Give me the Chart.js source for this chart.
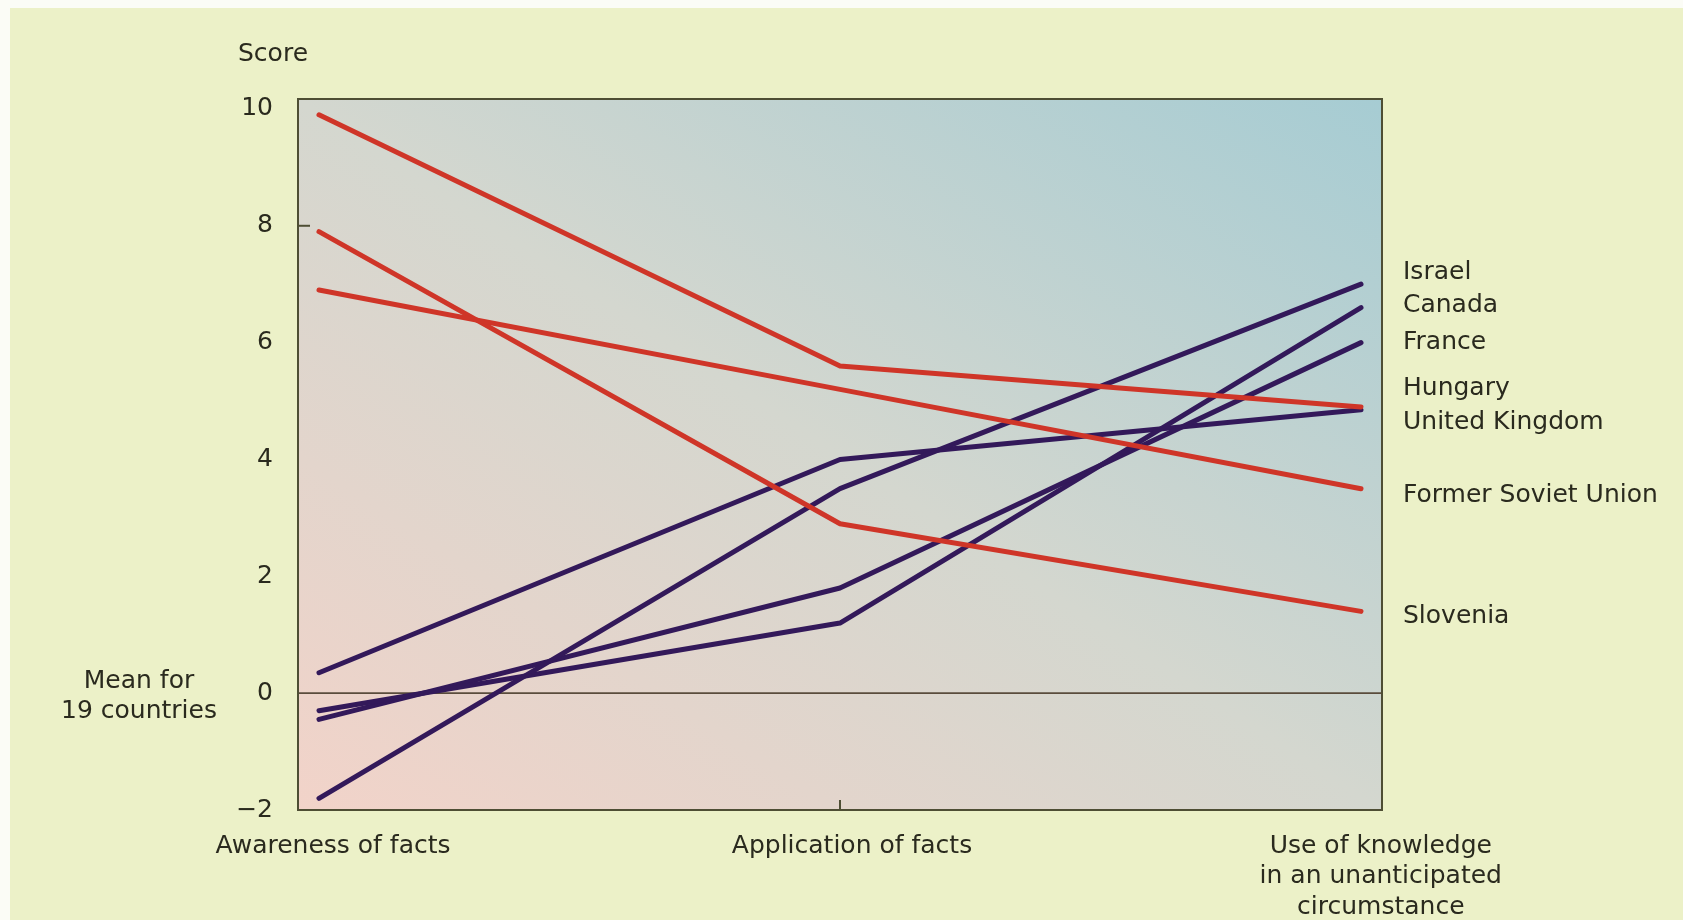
<!DOCTYPE html>
<html><head><meta charset="utf-8">
<script src="https://cdn.jsdelivr.net/npm/chart.js@4/dist/chart.umd.min.js"></script>
<style>
html,body{margin:0;padding:0;background:#fbfcf6;width:1683px;height:920px;overflow:hidden}
#wrap{position:absolute;left:10px;top:8px;width:1673px;height:912px;background:#ecf1c8}
canvas{display:block}
</style></head><body><div id="wrap"><canvas id="c" width="1673" height="912"></canvas></div>
<script>
// ---- data ----
const categories = ["Awareness of facts", "Application of facts", ["Use of knowledge", "in an unanticipated", "circumstance"]];
const yTickValues = [-2, 0, 2, 4, 6, 8, 10];
const countries = ["Israel", "Canada", "France", "Hungary", "United Kingdom", "Former Soviet Union", "Slovenia"];
const israel = [-1.8, 3.5, 7.0];
const canada = [-0.3, 1.2, 6.6];
const france = [-0.45, 1.8, 6.0];
const hungary = [9.9, 5.6, 4.9];
const unitedKingdom = [0.35, 4.0, 4.85];
const formerSovietUnion = [6.9, 5.2, 3.5];
const slovenia = [7.9, 2.9, 1.4];
const yAxisTitle = "Score";
const zeroLabel = ["Mean for", "19 countries"];

// ---- style ----
const RED = "#cf3528", PURPLE = "#33195a", TEXT = "#2a2a1e";
const FONT = "'DejaVu Sans', sans-serif";
const FS = 25;
const seriesValues = [israel, canada, france, hungary, unitedKingdom, formerSovietUnion, slovenia];
const seriesColors = [PURPLE, PURPLE, PURPLE, RED, PURPLE, RED, RED];
const labelNudge = {"Israel": -12, "Canada": -2, "France": 0, "Hungary": -18, "United Kingdom": 13, "Former Soviet Union": 7, "Slovenia": 5};
const xLabelShift = [0.027, 0.023, 0.038];

const datasets = countries.map((name, k) => ({
  label: name,
  data: seriesValues[k].map((v, i) => ({x: i, y: v})),
  borderColor: seriesColors[k],
  borderWidth: 5,
  pointRadius: 0,
  tension: 0,
  borderCapStyle: 'round',
  borderJoinStyle: 'round',
  order: seriesColors[k] === RED ? 0 : 1
}));

const decor = {
  id: 'decor',
  beforeDraw(chart) {
    const {ctx, chartArea: a} = chart;
    const cx = (a.left + a.right) / 2, cy = (a.top + a.bottom) / 2;
    const w = a.right - a.left, h = a.bottom - a.top;
    const len = Math.hypot(w, h);
    const ux = h / len, uy = -w / len;
    const proj = (-(w / 2) * ux + (h / 2) * uy);
    const g = ctx.createLinearGradient(cx + proj * ux, cy + proj * uy, cx - proj * ux, cy - proj * uy);
    g.addColorStop(0, "#f2d3c9");
    g.addColorStop(0.5, "#d4d7cf");
    g.addColorStop(1, "#a6ccd3");
    ctx.save();
    ctx.fillStyle = g;
    ctx.fillRect(a.left, a.top, w, h);
    ctx.restore();
  },
  beforeDatasetsDraw(chart) {
    const {ctx, chartArea: a, scales} = chart;
    const y0 = scales.y.getPixelForValue(0);
    ctx.save();
    ctx.strokeStyle = "#5a4c3c";
    ctx.lineWidth = 1.6;
    ctx.beginPath(); ctx.moveTo(a.left, y0); ctx.lineTo(a.right, y0); ctx.stroke();
    ctx.restore();
  },
  afterDraw(chart) {
    const {ctx, chartArea: a, scales} = chart;
    ctx.save();
    ctx.strokeStyle = "#4e4e34";
    ctx.lineWidth = 2;
    ctx.strokeRect(a.left, a.top, a.right - a.left, a.bottom - a.top);
    // small tick marks
    const xt = scales.x.getPixelForValue(1);
    ctx.beginPath(); ctx.moveTo(xt, a.bottom); ctx.lineTo(xt, a.bottom - 10); ctx.stroke();
    const yt = scales.y.getPixelForValue(8);
    ctx.beginPath(); ctx.moveTo(a.left, yt); ctx.lineTo(a.left + 12, yt); ctx.stroke();

    ctx.fillStyle = TEXT;
    ctx.font = FS + "px " + FONT;
    ctx.textBaseline = 'middle';
    ctx.textAlign = 'left';
    ctx.fillText(yAxisTitle, a.left - 60, a.top - 45);
    // zero label
    const y0 = scales.y.getPixelForValue(0);
    ctx.textAlign = 'center';
    ctx.fillText(zeroLabel[0], 129, y0 - 12);
    ctx.fillText(zeroLabel[1], 129, y0 + 18);
    // country labels
    ctx.textAlign = 'left';
    countries.forEach((name, k) => {
      const v = seriesValues[k][seriesValues[k].length - 1];
      ctx.fillText(name, a.right + 21, scales.y.getPixelForValue(v) + labelNudge[name]);
    });
    ctx.restore();
  }
};

new Chart(document.getElementById('c'), {
  type: 'line',
  data: {datasets},
  plugins: [decor],
  options: {
    responsive: false,
    animation: false,
    layout: {padding: {top: 91, right: 301, left: 0, bottom: 0}},
    plugins: {legend: {display: false}, tooltip: {enabled: false}, title: {display: false}},
    scales: {
      x: {
        type: 'linear', min: -0.0403, max: 2.0403,
        grid: {display: false}, border: {display: false},
        afterBuildTicks: ax => { ax.ticks = categories.map((c, i) => ({value: i + xLabelShift[i]})); },
        afterFit: ax => { ax.height = 110; },
        ticks: {
          autoSkip: false, maxRotation: 0, minRotation: 0, padding: 13, color: TEXT,
          font: {family: FONT, size: FS, lineHeight: 1.22},
          callback: (v, i) => categories[i]
        }
      },
      y: {
        type: 'linear', min: -2, max: 10.17,
        grid: {display: false}, border: {display: false},
        afterBuildTicks: ax => { ax.ticks = yTickValues.map(v => ({value: v})); },
        afterFit: ax => { ax.width = 288; },
        ticks: {
          padding: 17, color: TEXT,
          font: {family: FONT, size: FS},
          callback: v => v < 0 ? "\u2212" + Math.abs(v) : String(v)
        }
      }
    }
  }
});
</script>
</body></html>
